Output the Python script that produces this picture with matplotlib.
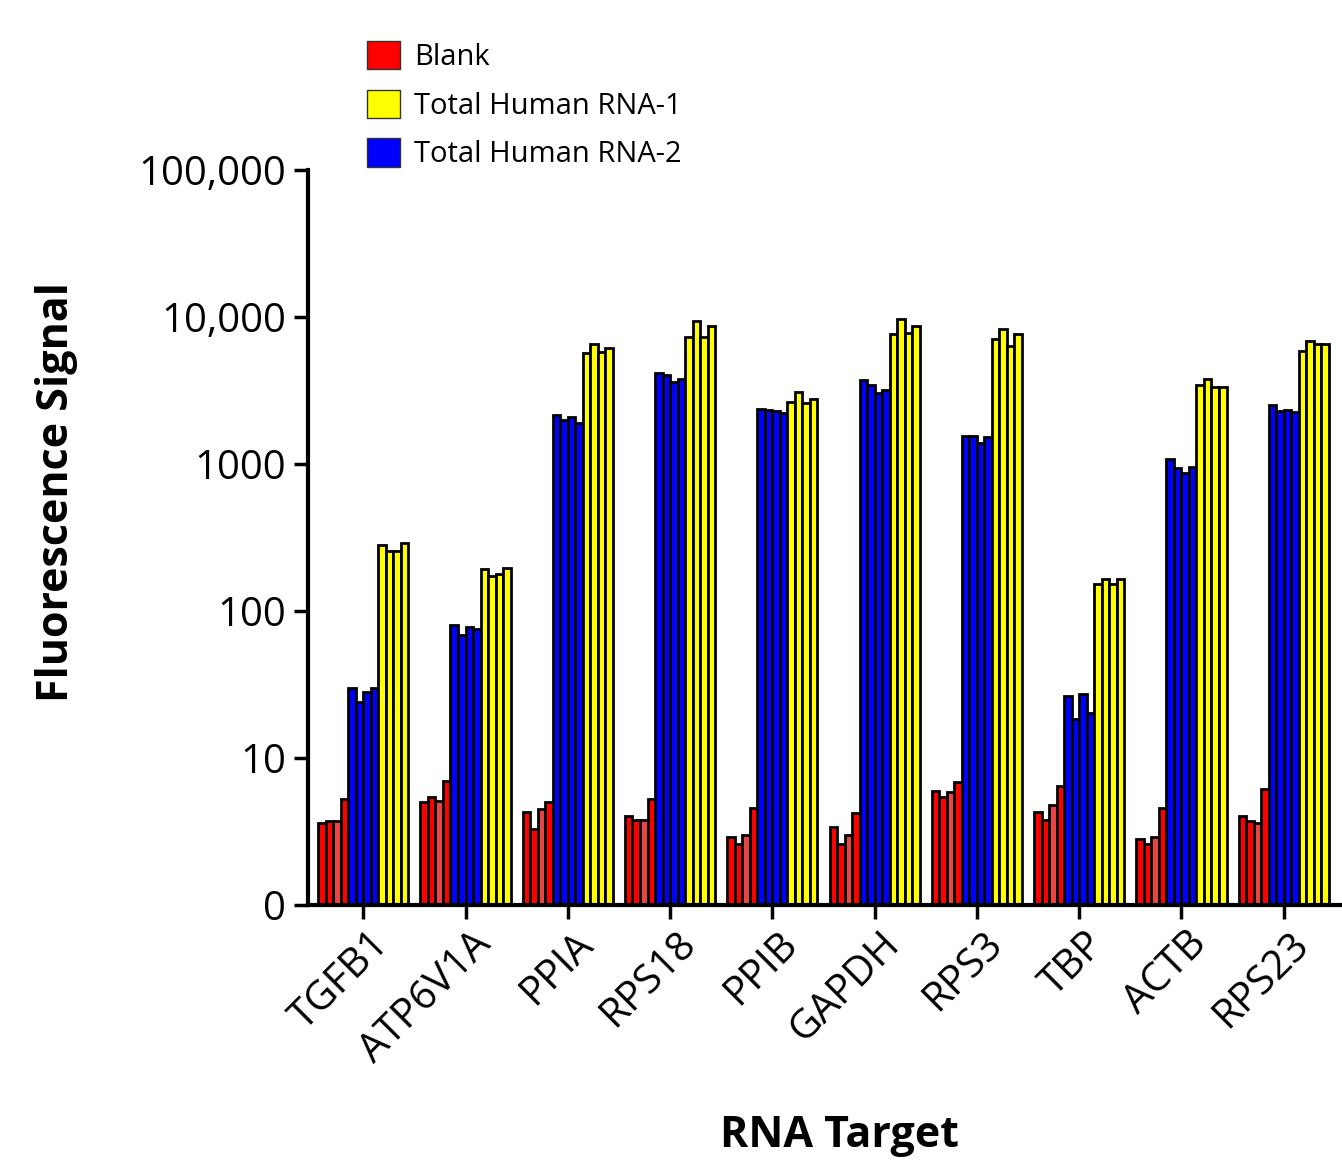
import numpy as np
import matplotlib
matplotlib.use("Agg")
from matplotlib import pyplot as plt
from matplotlib.patches import Patch
from matplotlib.transforms import ScaledTranslation

plt.rcParams['font.family'] = ['Open Sans', 'DejaVu Sans']

targets = ["TGFB1", "ATP6V1A", "PPIA", "RPS18", "PPIB", "GAPDH", "RPS3", "TBP", "ACTB", "RPS23"]

# four replicate wells per target
blank = [
    [3.6, 3.7, 3.7, 5.3],
    [5.0, 5.4, 5.1, 7.0],
    [4.3, 3.3, 4.5, 5.0],
    [4.0, 3.8, 3.8, 5.3],
    [2.9, 2.6, 3.0, 4.6],
    [3.4, 2.6, 3.0, 4.2],
    [6.0, 5.4, 5.9, 6.9],
    [4.3, 3.8, 4.8, 6.5],
    [2.8, 2.6, 2.9, 4.6],
    [4.0, 3.7, 3.6, 6.2],
]
rna2 = [
    [30, 24, 28, 30],
    [80, 69, 78, 76],
    [2140, 1980, 2100, 1900],
    [4190, 4060, 3640, 3760],
    [2380, 2320, 2280, 2210],
    [3720, 3450, 3060, 3190],
    [1560, 1560, 1380, 1530],
    [26.6, 18.5, 27.1, 20.3],
    [1080, 940, 873, 950],
    [2520, 2280, 2320, 2250],
]
rna1 = [
    [281, 257, 257, 289],
    [193, 174, 178, 197],
    [5690, 6520, 5800, 6160],
    [7270, 9440, 7270, 8730],
    [2650, 3080, 2620, 2780],
    [7630, 9750, 7820, 8730],
    [7040, 8320, 6350, 7630],
    [153, 164, 153, 164],
    [3450, 3760, 3330, 3330],
    [5870, 6920, 6520, 6520],
]

red_shades = ["#ff0000", "#ff0000", "#e84646", "#ff0000"]

W, H = 1342, 1161
fig = plt.figure(figsize=(W / 100, H / 100), dpi=100)
ax = fig.add_axes([308 / W, 1 - 905 / H, 1 - 308 / W, (905 - 170) / H])

bw = 0.0735
x = np.arange(len(targets))
for i in range(len(targets)):
    vals = blank[i] + rna2[i] + rna1[i]
    cols = red_shades + ["#0000ff"] * 4 + ["#ffff00"] * 4
    pos = x[i] + (np.arange(12) - 5.5) * bw
    ax.bar(pos, vals, width=bw, color=cols, edgecolor="black", linewidth=2.0, zorder=2)

ax.set_yscale("log")
ax.set_ylim(1, 100000)
ax.set_xlim(-0.54, 9.57)
ax.set_yticks([1, 10, 100, 1000, 10000, 100000])
ax.set_yticklabels(["0", "10", "100", "1000", "10,000", "100,000"])
ax.yaxis.set_minor_locator(matplotlib.ticker.NullLocator())
ax.set_xticks(x)
ax.set_xticklabels(targets, rotation=45, ha="right", va="center", rotation_mode="anchor")

for s in ["top", "right"]:
    ax.spines[s].set_visible(False)
for s in ["left", "bottom"]:
    ax.spines[s].set_linewidth(3)
ax.spines["bottom"].set_zorder(3)
ax.tick_params(axis="both", direction="out", length=10, width=2.5, pad=6)
ax.tick_params(axis="y", labelsize=29)
ax.tick_params(axis="x", labelsize=29, pad=14)
shift = ScaledTranslation(14 / 72, 0, fig.dpi_scale_trans)
for lab in ax.get_xticklabels():
    lab.set_transform(lab.get_transform() + shift)

fig.text(57 / W, 1 - 492 / H, "Fluorescence Signal", rotation=90, fontsize=31,
         fontweight="bold", ha="center", va="center")
fig.text(840 / W, 1 - 1147 / H, "RNA Target", fontsize=31, fontweight="bold",
         ha="center", va="baseline")

handles = [Patch(facecolor="#ff0000", edgecolor="#333333", label="Blank"),
           Patch(facecolor="#ffff00", edgecolor="#333333", label="Total Human RNA-1"),
           Patch(facecolor="#0000ff", edgecolor="#333333", label="Total Human RNA-2")]
fig.legend(handles=handles, loc="upper left", bbox_to_anchor=(367 / W, 1 - 41 / H),
           frameon=False, fontsize=21, handlelength=1.12, handleheight=1.12,
           handletextpad=0.5, labelspacing=0.6, borderpad=0, borderaxespad=0)

fig.savefig("out.png", dpi=100)
